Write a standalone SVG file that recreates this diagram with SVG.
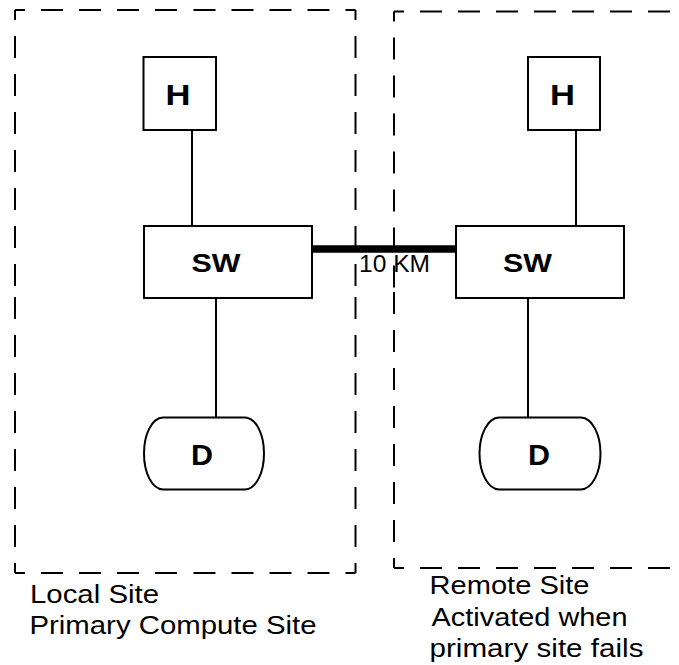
<svg xmlns="http://www.w3.org/2000/svg" width="679" height="665" viewBox="0 0 679 665">
<style>
  .site { fill: none; stroke: #000; stroke-width: 2; stroke-dasharray: 22 16; stroke-dashoffset: 12; }
  .box { fill: #fff; stroke: #000; stroke-width: 2; }
  .wire { stroke: #000; stroke-width: 2; fill: none; }
  .link { stroke: #000; stroke-width: 7.5; fill: none; }
  .lbl { font-family: "Liberation Sans", Arial, Helvetica, sans-serif; font-weight: bold; fill: #000; text-anchor: middle; }
  .cap { font-family: "Liberation Sans", Arial, Helvetica, sans-serif; font-size: 25px; fill: #000; }
</style>
<rect width="679" height="665" fill="#fff"/>

<g id="local-site">
  <line class="site" x1="15" y1="10" x2="185.25" y2="10"/>
  <line class="site" x1="355.5" y1="10" x2="185.25" y2="10"/>
  <line class="site" x1="15" y1="10" x2="15" y2="291.5"/>
  <line class="site" x1="15" y1="573" x2="15" y2="291.5"/>
  <line class="site" x1="355.5" y1="10" x2="355.5" y2="291.5"/>
  <line class="site" x1="355.5" y1="573" x2="355.5" y2="291.5"/>
  <line class="site" x1="15" y1="573" x2="185.25" y2="573"/>
  <line class="site" x1="355.5" y1="573" x2="185.25" y2="573"/>
  <text class="cap" x="30" y="602.5" textLength="129" lengthAdjust="spacingAndGlyphs">Local Site</text>
  <text class="cap" x="29.5" y="634" textLength="287" lengthAdjust="spacingAndGlyphs">Primary Compute Site</text>
</g>

<g id="remote-site">
  <line class="site" x1="394" y1="11.5" x2="720" y2="11.5"/>
  <line class="site" x1="394" y1="11.5" x2="394" y2="290"/>
  <line class="site" x1="394" y1="568" x2="394" y2="290"/>
  <line class="site" x1="394" y1="568" x2="720" y2="568"/>
  <text class="cap" x="429.5" y="594" textLength="160" lengthAdjust="spacingAndGlyphs">Remote Site</text>
  <text class="cap" x="431.5" y="626" textLength="196" lengthAdjust="spacingAndGlyphs">Activated when</text>
  <text class="cap" x="429.5" y="657" textLength="214" lengthAdjust="spacingAndGlyphs">primary site fails</text>
</g>

<g id="connectors">
  <line class="wire" x1="192" y1="130" x2="192" y2="226"/>
  <line class="wire" x1="216" y1="298" x2="216" y2="417.5"/>
  <line class="wire" x1="576" y1="130" x2="576" y2="226"/>
  <line class="wire" x1="528" y1="298" x2="528" y2="417.5"/>
  <line class="link" x1="307" y1="249" x2="457" y2="249"/>
  <text x="359" y="271.7" font-family="Liberation Sans, Arial, sans-serif" font-size="23" textLength="71" lengthAdjust="spacingAndGlyphs">10 KM</text>
</g>

<g id="local-host">
  <rect class="box" x="143.5" y="57" width="72.5" height="73"/>
  <text class="lbl" x="178" y="105" font-size="30" textLength="25" lengthAdjust="spacingAndGlyphs">H</text>
</g>
<g id="local-switch">
  <rect class="box" x="144" y="226" width="168" height="72"/>
  <text class="lbl" x="216" y="271.7" font-size="26" textLength="49" lengthAdjust="spacingAndGlyphs">SW</text>
</g>
<g id="local-disk">
  <path class="box" d="M163,417.5 H245 C256,418 264,434 264,453.5 C264,473 256,489 245,489.5 H163 C152,489 144,473 144,453.5 C144,434 152,418 163,417.5 Z"/>
  <text class="lbl" x="202" y="465" font-size="30" textLength="22" lengthAdjust="spacingAndGlyphs">D</text>
</g>

<g id="remote-host">
  <rect class="box" x="528" y="57" width="72" height="73"/>
  <text class="lbl" x="562.5" y="105" font-size="30" textLength="25" lengthAdjust="spacingAndGlyphs">H</text>
</g>
<g id="remote-switch">
  <rect class="box" x="456" y="226" width="168" height="72"/>
  <text class="lbl" x="527.5" y="271.7" font-size="26" textLength="49" lengthAdjust="spacingAndGlyphs">SW</text>
</g>
<g id="remote-disk">
  <path class="box" d="M499,417.5 H581 C592,418 600.5,434 600.5,453.5 C600.5,473 592,489 581,489.5 H499 C488,489 479.5,473 479.5,453.5 C479.5,434 488,418 499,417.5 Z"/>
  <text class="lbl" x="539" y="465" font-size="30" textLength="22" lengthAdjust="spacingAndGlyphs">D</text>
</g>
</svg>
